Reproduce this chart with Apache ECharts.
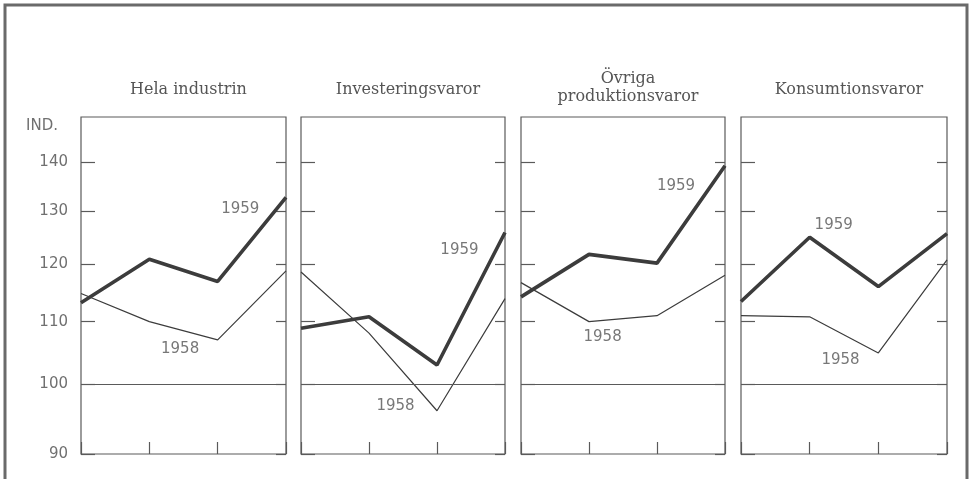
<!DOCTYPE html>
<html>
<head>
<meta charset="utf-8">
<script src="https://cdn.jsdelivr.net/npm/echarts@6/dist/echarts.min.js"></script>
<style>
html,body{margin:0;padding:0;background:#fff;}
#chart{width:971px;height:479px;}
</style>
</head>
<body>
<div id="chart"></div>
<script>
// ---- data ----
var panelTitles = ['Hela industrin', 'Investeringsvaror', 'Övriga\nproduktionsvaror', 'Konsumtionsvaror'];
var quarters = ['I', 'II', 'III', 'IV'];
var seriesNames = ['1958', '1959'];
var values1958 = [
  [114.8, 110.0, 107.0, 118.8],
  [118.6, 108.1, 96.1, 113.9],
  [116.7, 110.0, 111.0, 118.0],
  [111.0, 110.8, 104.9, 120.8]
];
var values1959 = [
  [113.2, 120.9, 116.9, 132.8],
  [108.9, 110.8, 103.0, 125.9],
  [114.2, 121.8, 120.2, 139.3],
  [113.4, 125.0, 116.0, 125.7]
];
var yTickValues = [90, 100, 110, 120, 130, 140];
var baseLineValue = 100;
// label anchors in data space [quarter position 0..3, index value]
var label1958At = [[1.45, 105.5], [1.39, 96.8], [1.2, 107.5], [1.45, 103.7]];
var label1959At = [[2.33, 130.5], [2.33, 122.6], [2.28, 135.1], [1.35, 127.4]];

// ---- chart ----
var chart = echarts.init(document.getElementById('chart'));
var ink = '#3c3c3c';
var frame = '#5a5a5a';
var grids = [], xAxes = [], yAxes = [], series = [], titles = [];
var panelLeft = [81, 301, 521, 741];
var panelWidth = [205, 204, 204, 206];
for (var i = 0; i < 4; i++) {
  grids.push({left: panelLeft[i], top: 117, width: panelWidth[i], height: 337,
    show: true, borderColor: frame, borderWidth: 1.2, backgroundColor: 'transparent'});
  var isTwo = panelTitles[i].indexOf('\n') >= 0;
  titles.push({
    text: panelTitles[i], left: panelLeft[i] + panelWidth[i] / 2, top: isTwo ? 65 : 76,
    textAlign: 'center',
    textStyle: {fontFamily: 'DejaVu Serif', fontSize: 16, fontWeight: 'normal', color: '#555', lineHeight: 18}
  });
  // category axis for the data (index 2i) and a hidden value axis for label anchors (index 2i+1)
  xAxes.push({
    type: 'category', gridIndex: i, data: quarters, boundaryGap: false,
    axisLine: {show: false},
    axisTick: {show: true, inside: true, length: 12, lineStyle: {color: frame, width: 1.2}},
    axisLabel: {show: false}, splitLine: {show: false}
  });
  xAxes.push({
    type: 'value', gridIndex: i, min: 0, max: quarters.length - 1, show: false
  });
  var yCommon = {
    type: 'log', logBase: 10, gridIndex: i, min: 90, max: 150,
    axisLine: {show: false}, splitLine: {show: false}
  };
  yAxes.push(Object.assign({}, yCommon, {
    position: 'left',
    axisTick: {show: true, inside: true, length: 14, customValues: yTickValues, lineStyle: {color: frame, width: 1.2}},
    axisLabel: {show: i === 0, customValues: yTickValues, margin: 13,
      fontFamily: 'DejaVu Sans', fontSize: 15, color: '#707070'}
  }));
  yAxes.push(Object.assign({}, yCommon, {
    position: 'right',
    axisTick: {show: true, inside: true, length: 10, customValues: yTickValues, lineStyle: {color: frame, width: 1.2}},
    axisLabel: {show: false}
  }));
  series.push({
    name: seriesNames[0], type: 'line', xAxisIndex: 2 * i, yAxisIndex: 2 * i,
    data: values1958[i], symbol: 'none', silent: true,
    lineStyle: {color: ink, width: 1.2},
    markLine: {silent: true, symbol: 'none', label: {show: false},
      lineStyle: {color: frame, width: 1.2, type: 'solid'}, data: [{yAxis: baseLineValue}]}
  });
  series.push({
    name: seriesNames[1], type: 'line', xAxisIndex: 2 * i, yAxisIndex: 2 * i,
    data: values1959[i], symbol: 'none', silent: true,
    lineStyle: {color: ink, width: 3.6}
  });
  series.push({
    name: 'labels', type: 'scatter', xAxisIndex: 2 * i + 1, yAxisIndex: 2 * i,
    symbolSize: 0, silent: true,
    label: {show: true, position: 'inside', formatter: '{b}',
      fontFamily: 'DejaVu Sans', fontSize: 15, color: '#555'},
    data: [
      {name: seriesNames[0], value: label1958At[i]},
      {name: seriesNames[1], value: label1959At[i]}
    ]
  });
}
chart.setOption({
  backgroundColor: '#fff',
  animation: false,
  title: titles,
  grid: grids,
  xAxis: xAxes,
  yAxis: yAxes,
  series: series,
  graphic: [
    {type: 'rect', shape: {x: 5, y: 5, width: 962, height: 520}, style: {fill: 'none', stroke: '#6a6a6a', lineWidth: 3}, silent: true},
    {type: 'text', left: 26, top: 119, style: {text: 'IND.', fontFamily: 'DejaVu Sans', fontSize: 15, fill: '#707070'}, silent: true}
  ]
});
</script>
</body>
</html>
